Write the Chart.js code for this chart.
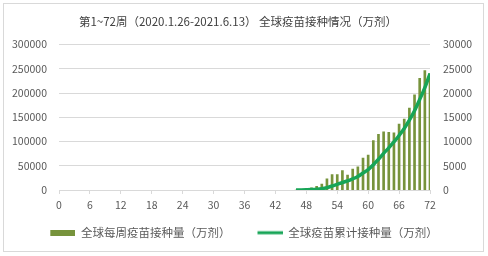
<!DOCTYPE html>
<html><head><meta charset="utf-8">
<script src="https://cdn.jsdelivr.net/npm/chart.js@4"></script>
<style>
html,body{margin:0;padding:0;background:#fff}
#wrap{position:relative;width:488px;height:256px}
#frame{position:absolute;left:3px;top:3px;width:481px;height:249px;border:1px solid #d9d9d9;box-sizing:border-box;pointer-events:none}
canvas{position:absolute;left:0;top:0}
</style></head>
<body><div id="wrap"><canvas id="c" width="488" height="256"></canvas><div id="frame"></div></div>
<script>
const titleText = '第1~72周（2020.1.26-2021.6.13） 全球疫苗接种情况（万剂）';
const seriesNames = ['全球每周疫苗接种量（万剂）', '全球疫苗累计接种量（万剂）'];
const weeks = [46,47,48,49,50,51,52,53,54,55,56,57,58,59,60,61,62,63,64,65,66,67,68,69,70,71,72];
const weekly = [0,100,250,450,750,1200,2300,3200,3200,4000,3100,4300,4800,6600,7200,10200,11500,12000,11900,11800,13600,14600,16900,19600,23000,24600,24000];
const cumulative = [0,100,400,800,1500,2800,5000,8200,11500,15500,18700,23000,28000,35000,42000,52000,63500,75500,87000,99000,112500,127000,144000,163500,186500,211000,240000];
const xTicks = {min:0, max:72, step:6};
const leftTicks = {min:0, max:300000, step:50000};
const rightTicks = {min:0, max:30000, step:5000};

const BAR = '#77933c', LINE = '#17a557', GRID = '#d9d9d9', TXT = '#595959';
const FAM = '"Noto Sans CJK SC", "Liberation Sans", sans-serif';
const PAD_R = 12;

function marker(w, h, x0, mw, y0, hh, color){
  const c = document.createElement('canvas'); c.width = w; c.height = h;
  const g = c.getContext('2d'); g.fillStyle = color; g.fillRect(x0, y0, mw, hh); return c;
}
// 12px transparent lead-in, then the visible 25px marker
const barMarker = marker(37, 6, 12, 25, 0, 6, BAR);
const lineMarker = marker(37, 6, 12, 25, 1.5, 3, LINE);
const plain = v => String(v);

new Chart(document.getElementById('c'), {
  type: 'bar',
  data: {
    datasets: [
      {label: seriesNames[0], type:'bar', data: weeks.map((w,i)=>({x:w, y:weekly[i]})), yAxisID:'y1',
       backgroundColor: BAR, borderWidth:0, barThickness:2, order:1},
      {label: seriesNames[1], type:'line', data: weeks.map((w,i)=>({x:w, y:cumulative[i]})), yAxisID:'y',
       borderColor: LINE, backgroundColor: LINE, borderWidth:3.5, pointRadius:0, cubicInterpolationMode:'monotone', fill:false, order:0}
    ]
  },
  options: {
    responsive:false, animation:false,
    layout:{padding:{left:0,right:PAD_R,top:0,bottom:7.5}},
    plugins:{
      tooltip:{enabled:false},
      title:{display:true, text:titleText, color:'#404040', font:{family:FAM, size:11.5, weight:'normal'}, padding:{top:14.3, bottom:16.4}},
      legend:{position:'bottom', labels:{usePointStyle:true, pointStyleWidth:37, padding:15, color:TXT,
        font:{family:FAM, size:11.5},
        sort:(a,b)=>a.datasetIndex-b.datasetIndex,
        generateLabels(chart){
          const items = Chart.defaults.plugins.legend.labels.generateLabels(chart);
          items.forEach(it=>{ it.pointStyle = it.datasetIndex===0 ? barMarker : lineMarker; });
          return items;
        }}}
    },
    scales:{
      x:{type:'linear', min:xTicks.min, max:xTicks.max, offset:false,
        ticks:{stepSize:xTicks.step, color:TXT, font:{family:FAM, size:10.5}, padding:5, maxRotation:0, autoSkip:false, callback:plain},
        grid:{drawOnChartArea:false, offset:false, color:GRID, tickLength:4},
        border:{display:true, color:GRID},
        afterFit(s){ s.height = 22; }},
      y:{type:'linear', position:'left', min:leftTicks.min, max:leftTicks.max,
        ticks:{stepSize:leftTicks.step, color:TXT, font:{family:FAM, size:10.5}, padding:12, callback:plain},
        grid:{color:GRID, drawTicks:false}, border:{display:false},
        afterFit(s){ s.width = 59; }},
      y1:{type:'linear', position:'right', min:rightTicks.min, max:rightTicks.max,
        ticks:{stepSize:rightTicks.step, color:TXT, font:{family:FAM, size:10.5}, padding:13, callback:plain},
        grid:{display:false, drawTicks:false}, border:{display:false},
        afterFit(s){ s.width = 58 - PAD_R; }}
    }
  }
});
</script></body></html>
